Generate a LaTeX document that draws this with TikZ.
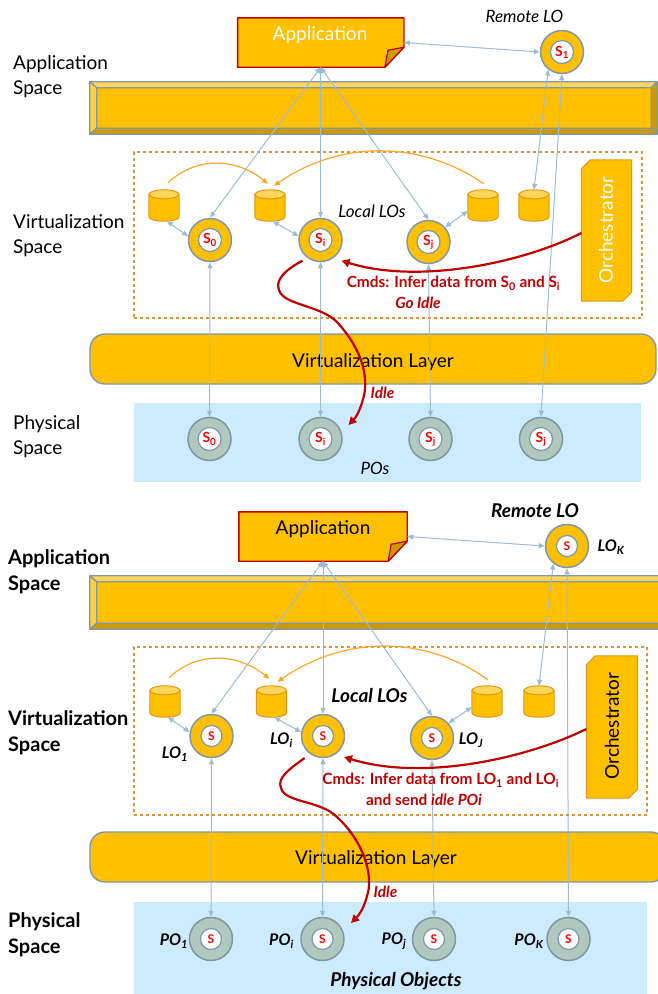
\documentclass[tikz,border=0pt]{standalone}
\usepackage{fontspec}
\setmainfont{Lato}
\usepackage{tikz}
\usetikzlibrary{arrows.meta, calc, positioning}
\definecolor{gold}{RGB}{255, 192, 0}
\definecolor{lightgold}{RGB}{255, 214, 90}
\definecolor{darkgold}{RGB}{204, 154, 6}
\definecolor{bluegrey}{RGB}{125, 152, 172}
\definecolor{linkblue}{RGB}{157, 187, 214}
\definecolor{darkred}{RGB}{192, 0, 0}
\definecolor{dashorange}{RGB}{214, 148, 58}
\definecolor{curveorange}{RGB}{255, 165, 40}
\definecolor{drumline}{RGB}{228, 150, 20}
\definecolor{skyfill}{RGB}{204, 235, 255}
\definecolor{greyfill}{RGB}{176, 200, 190}
\definecolor{greyline}{RGB}{125, 152, 160}

\tikzset{
	body/.style={font=\fontsize{19}{25}\selectfont},
	heading/.style={font=\bfseries\fontsize{20}{26}\selectfont},
	spacelabel/.style={anchor=west,align=left,inner sep=0pt},
	notebox/.style={inner sep=0pt,minimum width=166pt,minimum height=49pt},
	noteface/.style={fill=gold,draw=darkred,line width=1.4pt,line join=round},
	fold/.style={fill=darkgold,draw=darkred,line width=1.2pt,line join=round},
	orchface/.style={fill=gold,draw=drumline,line width=1pt,line join=round},
	layer/.style={rectangle,rounded corners=15pt,fill=gold,draw=bluegrey,line width=1.4pt,inner sep=0pt},
	barface/.style={draw=bluegrey,line width=1.2pt,line join=round},
	drumbox/.style={inner sep=0pt,minimum width=30pt,minimum height=31pt},
	drumface/.style={fill=gold,draw=drumline,line width=1pt},
	drumlid/.style={fill=lightgold,draw=drumline,line width=1pt},
	lo/.style={circle,minimum size=43pt,inner sep=0pt,fill=gold,draw=bluegrey,line width=1.5pt},
	po/.style={circle,minimum size=43pt,inner sep=0pt,fill=greyfill,draw=greyline,line width=1.5pt},
	sensor/.style={circle,minimum size=23pt,inner sep=0pt,fill=white,draw=bluegrey,line width=1.2pt,text=red,font=\bfseries\fontsize{14}{14}\selectfont},
	sensorb/.style={sensor,minimum size=21pt,font=\bfseries\fontsize{12}{12}\selectfont},
	tag/.style={font=\bfseries\itshape\fontsize{16}{16}\selectfont},
	link/.style={<->,linkblue,line width=1pt},
	fuse/.style={->,curveorange,line width=1.2pt},
	cmd/.style={->,darkred,line width=2.2pt,>={Triangle[length=8pt,width=8pt]}},
	redtext/.style={text=darkred,font=\bfseries\fontsize{15.4}{18}\selectfont},
	rednote/.style={text=darkred,font=\bfseries\itshape\fontsize{15.4}{18}\selectfont},
}
\newcommand{\drumshape}[1]{%
	\draw[drumface] ([yshift=-4.5pt]#1.north west) -- ([yshift=4.5pt]#1.south west) .. controls ([yshift=-1.5pt]#1.south west) and ([yshift=-1.5pt]#1.south east) .. ([yshift=4.5pt]#1.south east) -- ([yshift=-4.5pt]#1.north east) -- cycle;
	\draw[drumlid] ([yshift=-4.5pt]#1.north) ellipse [x radius=15pt,y radius=4.5pt];
}

\begin{document}
\begin{tikzpicture}[> = {Triangle[length=6pt,width=5pt]},x=1pt,y=-1pt]
	\useasboundingbox (0,0) rectangle (657,994);

	% ---- upper picture ----
	% spaces
	\node[body,spacelabel] (appspaceA) at (13,77) {Application\\Space};
	\node[body,spacelabel] (virtspaceA) at (13,236) {Virtualization\\Space};
	\node[body,spacelabel] (physspaceA) at (13,436.5) {Physical\\Space};

	% application bar
	\node[minimum width=567pt,minimum height=52pt,inner sep=0pt,fill=gold] (barA) at (373.5,108) {};
	\draw[barface,fill=lightgold] (barA.north west) -- (barA.north east) -- ([shift={(-6pt,-6pt)}]barA.north east) -- ([shift={(7pt,-6pt)}]barA.north west) -- cycle;
	\draw[barface,fill=lightgold!70!gold] (barA.north west) -- ([shift={(7pt,-6pt)}]barA.north west) -- ([shift={(7pt,6pt)}]barA.south west) -- (barA.south west) -- cycle;
	\draw[barface,fill=darkgold] (barA.south west) -- (barA.south east) -- ([shift={(-6pt,6pt)}]barA.south east) -- ([shift={(7pt,6pt)}]barA.south west) -- cycle;
	\draw[barface,fill=darkgold] (barA.north east) -- ([shift={(-6pt,-6pt)}]barA.north east) -- ([shift={(-6pt,6pt)}]barA.south east) -- (barA.south east) -- cycle;

	% local and physical zones
	\node[draw=dashorange,dashed,line width=1.1pt,minimum width=508pt,minimum height=166pt,inner sep=0pt] (zoneA) at (388,235) {};
	\node[fill=skyfill,minimum width=507pt,minimum height=79pt,inner sep=0pt] (physA) at (387.5,442.5) {};
	\node[layer,minimum width=566pt,minimum height=50pt] (virtA) at (373,359) {};
	\node[font=\fontsize{19}{19}\selectfont] (virttextA) at (373,362) {Virtualization Layer};

	% application and remote LO
	\node[notebox] (appA) at (320.75,42.5) {};
	\draw[noteface] (appA.north west) -- (appA.north east) -- ([yshift=20pt]appA.south east) -- ([xshift=-19pt]appA.south east) -- (appA.south west) -- cycle;
	\draw[fold] ([yshift=20pt]appA.south east) -- ([shift={(-16pt,17pt)}]appA.south east) -- ([xshift=-19pt]appA.south east) -- cycle;
	\node[text=white,font=\fontsize{19}{19}\selectfont] (apptextA) at (320,35) {Application};
	\node[font=\itshape\fontsize{17}{17}\selectfont] (remoteA) at (524.5,16) {Remote LO};
	\node[lo] (loS1) at (562,52) {};
	\node[sensor] (sS1) at (562,52) {S\textsubscript{1}};

	% orchestrator
	\node[inner sep=0pt,minimum width=50pt,minimum height=141pt] (orchA) at (606.5,230.5) {};
	\draw[orchface] ([xshift=9pt]orchA.north west) -- (orchA.north east) -- ([yshift=9pt]orchA.south east) -- ([xshift=-9pt]orchA.south east) -- (orchA.south west) -- ([yshift=-9pt]orchA.north west) -- cycle;
	\node[rotate=90,text=white,font=\fontsize{19}{19}\selectfont] (orchtextA) at (606,230) {Orchestrator};

	% data stores
	\node[drumbox] (cylA) at (164,205.5) {};
	\drumshape{cylA}
	\node[drumbox] (cylB) at (270,205.5) {};
	\drumshape{cylB}
	\node[drumbox] (cylC) at (483,205.5) {};
	\drumshape{cylC}
	\node[drumbox] (cylD) at (534,205.5) {};
	\drumshape{cylD}

	% local LOs
	\node[lo] (loA) at (210,240) {};
	\node[sensor] (sA) at (210,240) {S\textsubscript{0}};
	\node[lo] (loB) at (320.5,240) {};
	\node[sensor] (sB) at (320.5,240) {S\textsubscript{i}};
	\node[lo] (loC) at (428.5,242) {};
	\node[sensor] (sC) at (428.5,242) {S\textsubscript{j}};
	\node[font=\itshape\fontsize{17}{17}\selectfont] (localA) at (372,211) {Local LOs};

	% physical objects
	\node[po] (poA) at (209.5,439) {};
	\node[sensor] (tA) at (209.5,439) {S\textsubscript{0}};
	\node[po] (poB) at (320.5,439) {};
	\node[sensor] (tB) at (320.5,439) {S\textsubscript{i}};
	\node[po] (poC) at (430.5,439) {};
	\node[sensor] (tC) at (430.5,439) {S\textsubscript{j}};
	\node[po] (poD) at (541,439) {};
	\node[sensor] (tD) at (541,439) {S\textsubscript{j}};
	\node[font=\itshape\fontsize{17}{17}\selectfont] (posA) at (375,468) {POs};

	% links
	\draw[link] (appA.south) -- (loA.north);
	\draw[link] (appA.south) -- (loB.north);
	\draw[link] (appA.south) -- (loC.north);
	\draw[link] (appA.east) -- (loS1.west);
	\draw[link] (loS1.-128) -- (cylD.north);
	\draw[link] (loS1.south) -- (poD.north);
	\draw[link] (cylA.-80) -- (loA.170);
	\draw[link] (cylB.-80) -- (loB.170);
	\draw[link] (cylC.-160) -- (loC.42);
	\draw[link] (loA.south) -- (poA.north);
	\draw[link] (loB.south) -- (poB.north);
	\draw[link] (loC.south) -- (poC.north);

	% orange transfers
	\draw[fuse] ([shift={(4pt,7pt)}]cylA.north) .. controls (195,157) and (235,157) .. ([shift={(-2pt,6pt)}]cylB.north);
	\draw[fuse] ([shift={(1pt,6pt)}]cylC.north) .. controls (420,140) and (340,140) .. ([shift={(4pt,4pt)}]cylB.north);

	% commands
	\coordinate (cmdendA) at (341.5,260.7);
	\coordinate (idlestartA) at (302.5,260.7);
	\coordinate (idleendA) at (348.5,425);
	\draw[cmd] (orchA.west |- 0,233) .. controls (525,262) and (420,285) .. (cmdendA);
	\draw[cmd] (idlestartA) .. controls (285,270) and (275,280) .. (279,290) .. controls (283,305) and (320,305) .. (337,322) .. controls (358,345) and (368,370) .. (364.5,393) .. controls (362,405) and (358,415) .. (idleendA);
	\node[redtext] (cmdtextA) at (453.5,283) {Cmds: Infer data from S\textsubscript{0} and S\textsubscript{i}};
	\node[rednote] (gotextA) at (418,303) {Go Idle};
	\node[rednote] (idletextA) at (382.5,393) {Idle};

	% ---- lower picture ----
	% spaces
	\node[heading,spacelabel] (appspaceB) at (8,572) {Application\\Space};
	\node[heading,spacelabel] (virtspaceB) at (8,733) {Virtualization\\Space};
	\node[heading,spacelabel] (physspaceB) at (8,935) {Physical\\Space};

	% application bar
	\node[minimum width=575pt,minimum height=53pt,inner sep=0pt,fill=gold] (barB) at (377.5,602.5) {};
	\draw[barface,fill=lightgold] (barB.north west) -- (barB.north east) -- ([shift={(-6pt,-6pt)}]barB.north east) -- ([shift={(7pt,-6pt)}]barB.north west) -- cycle;
	\draw[barface,fill=lightgold!70!gold] (barB.north west) -- ([shift={(7pt,-6pt)}]barB.north west) -- ([shift={(7pt,6pt)}]barB.south west) -- (barB.south west) -- cycle;
	\draw[barface,fill=darkgold] (barB.south west) -- (barB.south east) -- ([shift={(-6pt,6pt)}]barB.south east) -- ([shift={(7pt,6pt)}]barB.south west) -- cycle;
	\draw[barface,fill=darkgold] (barB.north east) -- ([shift={(-6pt,-6pt)}]barB.north east) -- ([shift={(-6pt,6pt)}]barB.south east) -- (barB.south east) -- cycle;

	% local and physical zones
	\node[draw=dashorange,dashed,line width=1.1pt,minimum width=513pt,minimum height=168pt,inner sep=0pt] (zoneB) at (390.5,731) {};
	\node[fill=skyfill,minimum width=513pt,minimum height=92pt,inner sep=0pt] (physB) at (390.5,948) {};
	\node[layer,minimum width=576pt,minimum height=50pt] (virtB) at (378,857) {};
	\node[font=\fontsize{19}{19}\selectfont] (virttextB) at (376,859) {Virtualization Layer};

	% application and remote LO
	\node[notebox,minimum width=168pt] (appB) at (323,536.5) {};
	\draw[noteface] (appB.north west) -- (appB.north east) -- ([yshift=20pt]appB.south east) -- ([xshift=-19pt]appB.south east) -- (appB.south west) -- cycle;
	\draw[fold] ([yshift=20pt]appB.south east) -- ([shift={(-16pt,17pt)}]appB.south east) -- ([xshift=-19pt]appB.south east) -- cycle;
	\node[font=\fontsize{19}{19}\selectfont] (apptextB) at (323,529) {Application};
	\node[font=\bfseries\itshape\fontsize{19}{19}\selectfont] (remoteB) at (535,511) {Remote LO};
	\node[lo] (loK) at (567,546) {};
	\node[sensorb] (sK) at (567,546) {S};
	\node[tag] (lolabelK) at (611,547) {LO\textsubscript{K}};

	% orchestrator
	\node[inner sep=0pt,minimum width=51pt,minimum height=142pt] (orchB) at (612,727) {};
	\draw[orchface] ([xshift=9pt]orchB.north west) -- (orchB.north east) -- ([yshift=9pt]orchB.south east) -- ([xshift=-9pt]orchB.south east) -- (orchB.south west) -- ([yshift=-9pt]orchB.north west) -- cycle;
	\node[rotate=90,font=\fontsize{19}{19}\selectfont] (orchtextB) at (612,726) {Orchestrator};

	% data stores
	\node[drumbox] (cylE) at (165,701.5) {};
	\drumshape{cylE}
	\node[drumbox] (cylF) at (271.5,701.5) {};
	\drumshape{cylF}
	\node[drumbox] (cylG) at (487,701.5) {};
	\drumshape{cylG}
	\node[drumbox] (cylH) at (539,701.5) {};
	\drumshape{cylH}

	% local LOs
	\node[lo] (loE) at (211.5,736) {};
	\node[sensorb] (sE) at (211.5,736) {S};
	\node[tag] (lolabelE) at (175,754) {LO\textsubscript{1}};
	\node[lo] (loF) at (323,736) {};
	\node[sensorb] (sF) at (323,736) {S};
	\node[tag] (lolabelF) at (281.5,740) {LO\textsubscript{i}};
	\node[lo] (loG) at (432,738) {};
	\node[sensorb] (sG) at (432,738) {S};
	\node[tag] (lolabelG) at (471,740) {LO\textsubscript{J}};
	\node[font=\bfseries\itshape\fontsize{19}{19}\selectfont] (localB) at (369.5,696) {Local LOs};

	% physical objects
	\node[po] (poE) at (211,939) {};
	\node[sensorb] (tE) at (211,939) {S};
	\node[tag] (polabelE) at (174,941) {PO\textsubscript{1}};
	\node[po] (poF) at (322.5,939) {};
	\node[sensorb] (tF) at (322.5,939) {S};
	\node[tag] (polabelF) at (281.5,941) {PO\textsubscript{i}};
	\node[po] (poG) at (434,939) {};
	\node[sensorb] (tG) at (434,939) {S};
	\node[tag] (polabelG) at (394,941) {PO\textsubscript{j}};
	\node[po] (poH) at (568.5,939) {};
	\node[sensorb] (tH) at (568.5,939) {S};
	\node[tag] (polabelH) at (529,941) {PO\textsubscript{K}};
	\node[font=\bfseries\itshape\fontsize{19}{19}\selectfont] (posB) at (396,981) {Physical Objects};

	% links
	\draw[link] (appB.south) -- (loE.north);
	\draw[link] (appB.south) -- (loF.north);
	\draw[link] (appB.south) -- (loG.north);
	\draw[link] (appB.east) -- (loK.west);
	\draw[link] (loK.-128) -- (cylH.north);
	\draw[link] (loK.south) -- (poH.north);
	\draw[link] (cylE.-80) -- (loE.170);
	\draw[link] (cylF.-80) -- (loF.170);
	\draw[link] (cylG.-160) -- (loG.42);
	\draw[link] (loE.south) -- (poE.north);
	\draw[link] (loF.south) -- (poF.north);
	\draw[link] (loG.south) -- (poG.north);

	% orange transfers
	\draw[fuse] ([shift={(4pt,8pt)}]cylE.north) .. controls (196,652) and (236,652) .. ([shift={(-2pt,7pt)}]cylF.north);
	\draw[fuse] ([shift={(1pt,6pt)}]cylG.north) .. controls (425,635) and (345,635) .. ([shift={(6pt,4pt)}]cylF.north);

	% commands
	\coordinate (cmdendB) at (344,757);
	\coordinate (idlestartB) at (304.6,758);
	\coordinate (idleendB) at (351,923);
	\draw[cmd] (orchB.west |- 0,729) .. controls (530,757) and (425,782) .. (cmdendB);
	\draw[cmd] (idlestartB) .. controls (288,770) and (277,778) .. (281,788) .. controls (285,803) and (320,800) .. (337,817) .. controls (360,838) and (372,868) .. (368.5,890) .. controls (366,902) and (362,912) .. (idleendB);
	\node[redtext] (cmdtextB) at (440.7,780) {Cmds: Infer data from LO\textsubscript{1} and LO\textsubscript{i}};
	\node[redtext] (gotextB) at (424,800) {and send \textit{idle POi}};
	\node[rednote] (idletextB) at (385.5,892) {Idle};
\end{tikzpicture}
\end{document}
